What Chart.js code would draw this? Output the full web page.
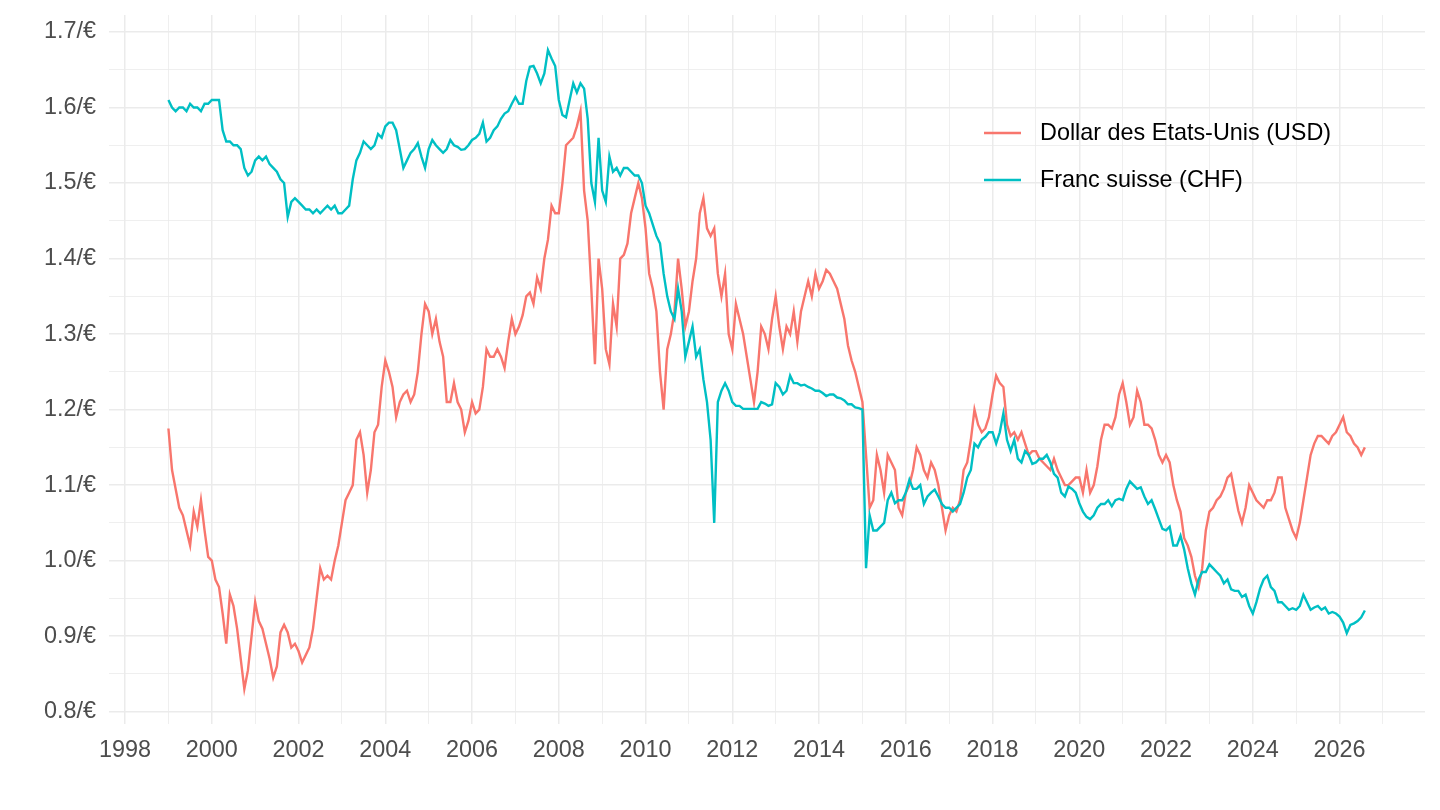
<!DOCTYPE html>
<html>
<head>
<meta charset="utf-8">
<script src="https://cdn.jsdelivr.net/npm/chart.js@4.4.1/dist/chart.umd.min.js"></script>
<style>
  html, body { margin: 0; padding: 0; background: #fff; }
  #wrap { width: 1440px; height: 810px; }
</style>
</head>
<body>
<div id="wrap"><canvas id="myChart" width="1440" height="810"></canvas></div>
<script>
// monthly values, first point = January 1999
const startYear = 1999
const seriesNames = ["Dollar des Etats-Unis (USD)", "Franc suisse (CHF)"]
const seriesColors = ["#F8766D", "#00BFC4"]

const usd = [
  1.175, 1.12, 1.095, 1.07, 1.06, 1.04, 1.02, 1.065, 1.045, 1.08, 1.04, 1.005, // 1999
  1.0, 0.975, 0.965, 0.93, 0.89, 0.955, 0.94, 0.91, 0.87, 0.83, 0.855, 0.9, // 2000
  0.945, 0.92, 0.91, 0.89, 0.87, 0.845, 0.86, 0.905, 0.915, 0.905, 0.885, 0.89, // 2001
  0.88, 0.865, 0.875, 0.885, 0.91, 0.95, 0.99, 0.975, 0.98, 0.975, 1.0, 1.02, // 2002
  1.05, 1.08, 1.09, 1.1, 1.16, 1.17, 1.14, 1.09, 1.12, 1.17, 1.18, 1.23, // 2003
  1.265, 1.25, 1.23, 1.19, 1.21, 1.22, 1.225, 1.21, 1.22, 1.25, 1.3, 1.34, // 2004
  1.33, 1.3, 1.32, 1.29, 1.27, 1.21, 1.21, 1.235, 1.21, 1.2, 1.17, 1.185, // 2005
  1.21, 1.195, 1.2, 1.23, 1.28, 1.27, 1.27, 1.28, 1.27, 1.255, 1.29, 1.32, // 2006
  1.3, 1.31, 1.325, 1.35, 1.355, 1.34, 1.375, 1.36, 1.4, 1.425, 1.47, 1.46, // 2007
  1.46, 1.5, 1.55, 1.555, 1.56, 1.575, 1.595, 1.49, 1.45, 1.36, 1.26, 1.4, // 2008
  1.36, 1.28, 1.26, 1.34, 1.31, 1.4, 1.405, 1.42, 1.46, 1.48, 1.5, 1.48, // 2009
  1.44, 1.38, 1.36, 1.33, 1.25, 1.2, 1.28, 1.3, 1.33, 1.4, 1.36, 1.31, // 2010
  1.33, 1.37, 1.4, 1.46, 1.48, 1.44, 1.43, 1.44, 1.38, 1.35, 1.38, 1.3, // 2011
  1.28, 1.34, 1.32, 1.3, 1.27, 1.24, 1.21, 1.25, 1.31, 1.3, 1.28, 1.32, // 2012
  1.35, 1.31, 1.28, 1.31, 1.3, 1.33, 1.29, 1.33, 1.35, 1.37, 1.35, 1.38, // 2013
  1.36, 1.37, 1.385, 1.38, 1.37, 1.36, 1.34, 1.32, 1.285, 1.265, 1.25, 1.23, // 2014
  1.21, 1.14, 1.07, 1.08, 1.14, 1.12, 1.09, 1.14, 1.13, 1.12, 1.07, 1.06, // 2015
  1.09, 1.1, 1.12, 1.15, 1.14, 1.12, 1.11, 1.13, 1.12, 1.1, 1.07, 1.04, // 2016
  1.06, 1.07, 1.065, 1.08, 1.12, 1.13, 1.16, 1.2, 1.18, 1.17, 1.175, 1.19, // 2017
  1.22, 1.245, 1.235, 1.23, 1.18, 1.165, 1.17, 1.16, 1.17, 1.155, 1.14, 1.145, // 2018
  1.145, 1.135, 1.13, 1.125, 1.12, 1.135, 1.12, 1.11, 1.1, 1.1, 1.105, 1.11, // 2019
  1.11, 1.09, 1.12, 1.09, 1.1, 1.125, 1.16, 1.18, 1.18, 1.175, 1.19, 1.22, // 2020
  1.235, 1.21, 1.18, 1.19, 1.225, 1.21, 1.18, 1.18, 1.175, 1.16, 1.14, 1.13, // 2021
  1.14, 1.13, 1.1, 1.08, 1.065, 1.03, 1.02, 1.005, 0.98, 0.965, 0.99, 1.04, // 2022
  1.065, 1.07, 1.08, 1.085, 1.095, 1.11, 1.115, 1.09, 1.066, 1.05, 1.07, 1.1, // 2023
  1.09, 1.08, 1.075, 1.07, 1.08, 1.08, 1.09, 1.11, 1.11, 1.07, 1.055, 1.04, // 2024
  1.03, 1.05, 1.08, 1.11, 1.14, 1.155, 1.165, 1.165, 1.16, 1.155, 1.165, 1.17, // 2025
  1.18, 1.19, 1.17, 1.165, 1.155, 1.15, 1.14, 1.15 // 2026
]

const chf = [
  1.61, 1.6, 1.595, 1.6, 1.6, 1.595, 1.605, 1.6, 1.6, 1.595, 1.605, 1.605, // 1999
  1.61, 1.61, 1.61, 1.57, 1.555, 1.555, 1.55, 1.55, 1.545, 1.52, 1.51, 1.515, // 2000
  1.53, 1.535, 1.53, 1.535, 1.525, 1.52, 1.515, 1.505, 1.5, 1.455, 1.475, 1.48, // 2001
  1.475, 1.47, 1.465, 1.465, 1.46, 1.465, 1.46, 1.465, 1.47, 1.465, 1.47, 1.46, // 2002
  1.46, 1.465, 1.47, 1.505, 1.53, 1.54, 1.555, 1.55, 1.545, 1.55, 1.565, 1.56, // 2003
  1.575, 1.58, 1.58, 1.57, 1.545, 1.52, 1.53, 1.54, 1.545, 1.553, 1.535, 1.52, // 2004
  1.545, 1.557, 1.55, 1.545, 1.54, 1.545, 1.557, 1.55, 1.548, 1.544, 1.545, 1.55, // 2005
  1.557, 1.56, 1.565, 1.58, 1.555, 1.56, 1.57, 1.575, 1.585, 1.592, 1.595, 1.605, // 2006
  1.614, 1.605, 1.605, 1.635, 1.654, 1.655, 1.645, 1.632, 1.645, 1.676, 1.665, 1.655, // 2007
  1.61, 1.59, 1.587, 1.61, 1.632, 1.62, 1.632, 1.625, 1.585, 1.5, 1.475, 1.56, // 2008
  1.49, 1.475, 1.535, 1.515, 1.52, 1.51, 1.52, 1.52, 1.515, 1.51, 1.51, 1.5, // 2009
  1.47, 1.46, 1.445, 1.43, 1.42, 1.38, 1.35, 1.33, 1.32, 1.36, 1.33, 1.27, // 2010
  1.29, 1.31, 1.27, 1.28, 1.24, 1.21, 1.16, 1.05, 1.21, 1.225, 1.235, 1.225, // 2011
  1.21, 1.205, 1.205, 1.201, 1.201, 1.201, 1.201, 1.201, 1.21, 1.208, 1.205, 1.207, // 2012
  1.235, 1.23, 1.22, 1.225, 1.245, 1.235, 1.235, 1.232, 1.233, 1.23, 1.228, 1.225, // 2013
  1.225, 1.222, 1.218, 1.22, 1.22, 1.216, 1.215, 1.212, 1.207, 1.207, 1.203, 1.202, // 2014
  1.2, 0.99, 1.06, 1.04, 1.04, 1.045, 1.05, 1.08, 1.09, 1.076, 1.08, 1.08, // 2015
  1.09, 1.107, 1.095, 1.095, 1.1, 1.075, 1.085, 1.09, 1.094, 1.085, 1.075, 1.07, // 2016
  1.07, 1.065, 1.07, 1.075, 1.09, 1.11, 1.12, 1.155, 1.15, 1.16, 1.164, 1.17, // 2017
  1.17, 1.155, 1.17, 1.195, 1.16, 1.145, 1.16, 1.135, 1.13, 1.145, 1.14, 1.128, // 2018
  1.13, 1.135, 1.135, 1.14, 1.13, 1.115, 1.11, 1.09, 1.085, 1.098, 1.095, 1.09, // 2019
  1.076, 1.065, 1.058, 1.055, 1.06, 1.07, 1.075, 1.075, 1.08, 1.072, 1.08, 1.082, // 2020
  1.08, 1.095, 1.105, 1.1, 1.095, 1.097, 1.085, 1.075, 1.08, 1.068, 1.055, 1.042, // 2021
  1.04, 1.045, 1.02, 1.02, 1.033, 1.015, 0.99, 0.97, 0.955, 0.975, 0.985, 0.985, // 2022
  0.995, 0.99, 0.985, 0.98, 0.97, 0.975, 0.962, 0.96, 0.96, 0.952, 0.955, 0.94, // 2023
  0.93, 0.945, 0.963, 0.975, 0.98, 0.965, 0.96, 0.945, 0.945, 0.94, 0.935, 0.937, // 2024
  0.935, 0.94, 0.955, 0.945, 0.935, 0.938, 0.94, 0.935, 0.938, 0.93, 0.932, 0.93, // 2025
  0.926, 0.918, 0.904, 0.915, 0.917, 0.92, 0.925, 0.934 // 2026
]

const xTicks = [1998, 1999, 2000, 2001, 2002, 2003, 2004, 2005, 2006, 2007, 2008, 2009, 2010, 2011, 2012,
  2013, 2014, 2015, 2016, 2017, 2018, 2019, 2020, 2021, 2022, 2023, 2024, 2025, 2026, 2027]
const yTicks = [0.8, 0.85, 0.9, 0.95, 1.0, 1.05, 1.1, 1.15, 1.2, 1.25, 1.3, 1.35, 1.4, 1.45, 1.5, 1.55, 1.6, 1.65, 1.7]

const toPoints = arr => arr.map((v, i) => ({ x: startYear + i / 12, y: v }))
const isMajorX = v => Math.round(v) % 2 === 0
const isMajorY = v => Math.round(v * 100) % 10 === 0

const FONT = "'Liberation Sans', Arial, Helvetica, sans-serif"
const FONT_SIZE = 23.4
const gridColor = "#EBEBEB"

const ctx = document.getElementById("myChart").getContext("2d")
const myChart = new Chart(ctx, {
  type: "line",
  data: {
    datasets: [
      {
        label: seriesNames[0],
        data: toPoints(usd),
        borderColor: seriesColors[0],
        borderWidth: 2.4,
        pointRadius: 0,
        tension: 0,
        order: 1,
      },
      {
        label: seriesNames[1],
        data: toPoints(chf),
        borderColor: seriesColors[1],
        borderWidth: 2.4,
        pointRadius: 0,
        tension: 0,
        order: 0,
      },
    ],
  },
  options: {
    responsive: false,
    animation: false,
    layout: { padding: { left: 0, right: 15, top: 15, bottom: 0 } },
    plugins: {
      legend: { display: false },
      tooltip: { enabled: false },
    },
    scales: {
      x: {
        type: "linear",
        min: 1997.63,
        max: 2027.97,
        afterBuildTicks: scale => { scale.ticks = xTicks.map(v => ({ value: v })) },
        afterFit: scale => {
          scale.height = 86
          scale.paddingLeft = 0
          scale.paddingRight = 0
        },
        border: { display: false },
        grid: {
          color: gridColor,
          lineWidth: c => (isMajorX(c.tick.value) ? 1.5 : 0.8),
          drawTicks: false,
        },
        ticks: {
          autoSkip: false,
          maxRotation: 0,
          padding: 13,
          color: "#4D4D4D",
          font: { family: FONT, size: FONT_SIZE },
          callback: v => (isMajorX(v) ? String(v) : ""),
        },
      },
      y: {
        type: "linear",
        min: 0.7837,
        max: 1.7225,
        afterBuildTicks: scale => { scale.ticks = yTicks.map(v => ({ value: v })) },
        afterFit: scale => {
          scale.width = 109
          scale.paddingTop = 0
          scale.paddingBottom = 0
        },
        border: { display: false },
        grid: {
          color: gridColor,
          lineWidth: c => (isMajorY(c.tick.value) ? 1.5 : 0.8),
          drawTicks: false,
        },
        ticks: {
          autoSkip: false,
          padding: 13,
          color: "#4D4D4D",
          font: { family: FONT, size: FONT_SIZE },
          callback: v => (isMajorY(v) ? v.toFixed(1) + "/€" : ""),
        },
      },
    },
  },
  plugins: [
    {
      id: "insideLegend",
      afterDraw: function (chart) {
        const c = chart.ctx
        c.save()
        const rows = [133, 180]
        chart.data.datasets.forEach((ds, i) => {
          const y = rows[i]
          c.strokeStyle = ds.borderColor
          c.lineWidth = 2.6
          c.beginPath()
          c.moveTo(984, y)
          c.lineTo(1021, y)
          c.stroke()
          c.fillStyle = "#000000"
          c.font = FONT_SIZE + "px " + FONT
          c.textAlign = "left"
          c.textBaseline = "middle"
          c.fillText(ds.label, 1040, y + 1)
        })
        c.restore()
      },
    },
  ],
})
</script>
</body>
</html>
